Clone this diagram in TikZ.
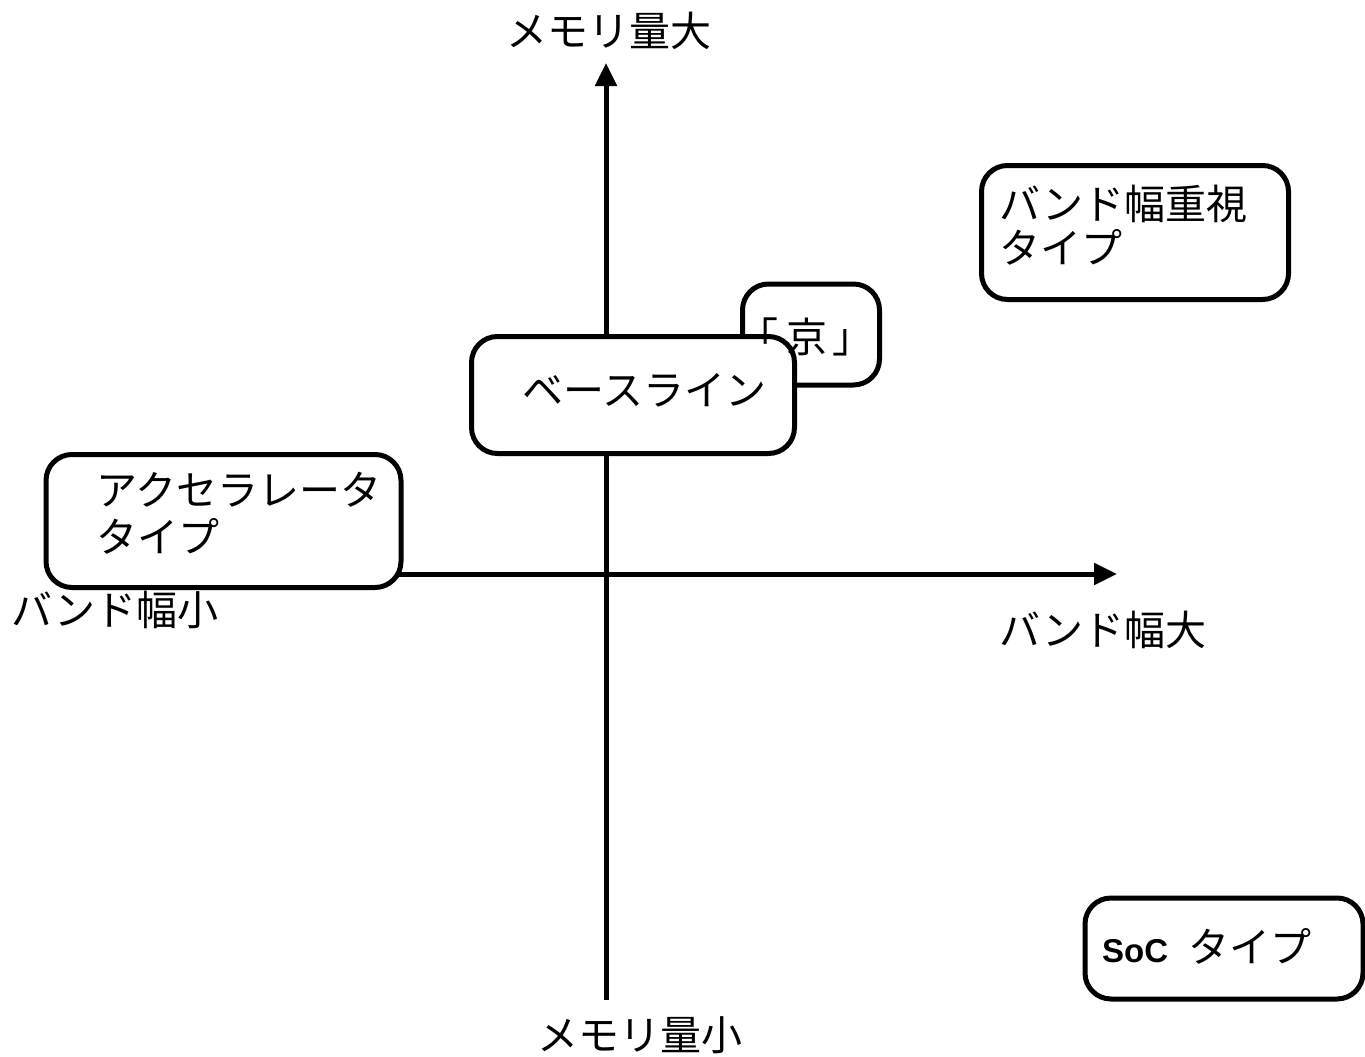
\documentclass[tikz,border=0pt]{standalone}
\usepackage{fontspec}
\setmainfont{Noto Sans CJK JP}
\newfontfamily\latinfont{Liberation Sans}
\usetikzlibrary{arrows.meta}
\tikzset{
  axis/.style={line width=5pt, -{Triangle[length=23pt,width=21pt]}},
  box/.style={draw, line width=5pt, rounded corners=26pt, fill=white, inner sep=0pt},
  jp/.style={inner sep=0pt, anchor=base west, font=\fontsize{41}{46}\selectfont},
  lbl/.style={inner sep=0pt, anchor=base, font=\fontsize{41}{46}\selectfont}
}
\begin{document}
\begin{tikzpicture}[x=1pt,y=-1pt]
\useasboundingbox (0,0) rectangle (1365,1057);
\clip (0,0) rectangle (1365,1057);
% axes
\coordinate (xs) at (60,574);
\coordinate (xe) at (1117,574);
\coordinate (ys) at (606,1000);
\coordinate (ye) at (606,63);
\draw[axis] (xs) -- (xe);
\draw[axis] (ys) -- (ye);
% boxes
\node[box, minimum width=137pt, minimum height=101pt] (kyo) at (811,334.5) {};
\node[box, minimum width=323pt, minimum height=117pt] (base) at (633,395) {};
\node[box, minimum width=355pt, minimum height=133pt] (accel) at (223.5,521) {};
\node[box, minimum width=307pt, minimum height=134pt] (bw) at (1135,232.5) {};
\node[box, minimum width=278pt, minimum height=101pt] (soc) at (1224,948.5) {};
% box texts
\node[jp] (kyot) at (737,352) {「\hspace{8pt}京\hspace{5pt}」};
\node[jp] (baset) at (522,405) {ベースライン};
\node[jp] (accelt1) at (96,505) {アクセラレータ};
\node[jp] (accelt2) at (96,552) {タイプ};
\node[jp] (bwt1) at (999,219) {バンド幅重視};
\node[jp] (bwt2) at (999,263) {タイプ};
\node[jp] (soct) at (1102,962) {{\latinfont\bfseries\fontsize{33}{38}\selectfont SoC}\hspace{20pt}タイプ};
% axis labels
\node[lbl] (ytop) at (609,47) {メモリ量大};
\node[lbl] (ybot) at (640,1050) {メモリ量小};
\node[jp] (xleft) at (11,625) {バンド幅小};
\node[jp] (xright) at (999,645) {バンド幅大};
\end{tikzpicture}
\end{document}
